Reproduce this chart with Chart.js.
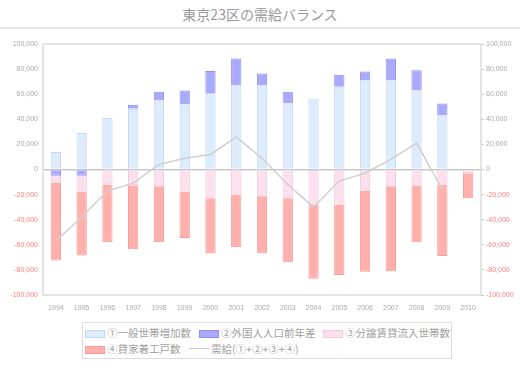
<!DOCTYPE html>
<html>
<head>
<meta charset="utf-8">
<script src="https://cdn.jsdelivr.net/npm/chart.js@4.4.1/dist/chart.umd.min.js"></script>
<style>
    body { margin: 0; width: 520px; height: 375px; background: #fff; overflow: hidden;
           font-family: "Noto Sans CJK JP", "Noto Sans", sans-serif; }
    #title { height: 27px; line-height: 29px; text-align: center; font-size: 14px; color: #999;
             border-bottom: 2px solid #e6e6e6; }
    #wrap { position: absolute; left: 0; top: 31px; width: 520px; height: 284px; }
    #legend { position: absolute; left: 82px; top: 322px; width: 368px; height: 35px;
              border: 1px solid #ddd; font-size: 10.5px; color: #a0a0a0; }
    .row { position: absolute; left: 2px; height: 16px; line-height: 16px; white-space: nowrap; }
    .item { position: absolute; top: 0; }
    .sw { display: inline-block; width: 20px; height: 8px; vertical-align: -1px; margin-right: 2px; box-sizing: border-box; }
    .ln { display: inline-block; width: 20px; height: 0; border-top: 1.5px solid #c8c8c8; vertical-align: 4px; margin-right: 2px; }
</style>
</head>
<body>
<div id="title">東京23区の需給バランス</div>
<div id="wrap"><canvas id="balanceChart"></canvas></div>
<div id="legend"></div>

<script>
// data
const years = ['1994', '1995', '1996', '1997', '1998', '1999', '2000', '2001', '2002',
    '2003', '2004', '2005', '2006', '2007', '2008', '2009', '2010'];
const householdIncrease = [14000, 29000, 41000, 48500, 55000, 52000, 61000, 67000, 67000,
    52500, 56500, 66000, 71000, 71000, 63000, 43000, null];
const foreignChange = [-5000, -5000, 0, 3000, 7000, 11000, 17500, 21500, 9500,
    9500, -1000, 9500, 7000, 17500, 16000, 9500, null];
const condoInflow = [-5500, -12500, -12000, -12500, -14000, -17500, -23000, -20000, -22000,
    -23000, -27000, -28000, -17000, -14000, -13000, -12000, -3000];
const rentalStarts = [-62000, -51000, -46000, -51000, -44000, -37000, -44000, -42000, -45000,
    -51000, -59000, -56000, -64500, -67000, -45000, -57000, -20000];
const balance = [-57000, -38000, -17000, -11000, 4000, 9000, 12000, 26000, 9000,
    -12000, -30000, -9000, -3000, 8000, 21000, -16000, null];

const labelNames = ['①一般世帯増加数', '②外国人人口前年差', '③分譲賃貸流入世帯数', '④貸家着工戸数', '需給(①+②+③+④)'];

const fills = ['rgb(221, 236, 252)', 'rgb(170, 170, 252)', 'rgb(252, 224, 237)', 'rgb(255, 176, 172)'];
const borders = ['rgb(194, 216, 242)', 'rgb(145, 145, 240)', 'rgb(242, 200, 218)', 'rgb(246, 156, 152)'];

const fmt = v => v.toLocaleString('en-US');

// frame round the plot area
const frame = {
    id: 'frame',
    afterDraw(chart) {
        const a = chart.chartArea;
        const c = chart.ctx;
        c.save();
        c.strokeStyle = '#dcdcdc';
        c.lineWidth = 1.5;
        c.strokeRect(a.left, a.top, a.right - a.left, a.bottom - a.top);
        c.restore();
    }
};

const tickColor = ctx => ctx.tick.value < 0 ? '#ff8080' : '#aaa';

new Chart(document.getElementById('balanceChart'), {
    type: 'bar',
    data: {
        labels: years,
        datasets: [
            { label: labelNames[0], data: householdIncrease, stack: 'bars', order: 1 },
            { label: labelNames[1], data: foreignChange, stack: 'bars', order: 1 },
            { label: labelNames[2], data: condoInflow, stack: 'bars', order: 1 },
            { label: labelNames[3], data: rentalStarts, stack: 'bars', order: 1 },
            {
                type: 'line', label: labelNames[4], data: balance, stack: 'line', order: 0,
                borderColor: '#cfcfcf', borderWidth: 1.5, pointRadius: 0, tension: 0, fill: false
            }
        ].map((d, i) => i < 4 ? Object.assign(d, {
            backgroundColor: fills[i],
            borderColor: borders[i],
            borderWidth: 1,
            categoryPercentage: 0.8,
            barPercentage: 0.5
        }) : d)
    },
    options: {
        responsive: true,
        maintainAspectRatio: false,
        animation: false,
        layout: { padding: { top: 13 } },
        plugins: {
            legend: { display: false },
            tooltip: { enabled: false }
        },
        scales: {
            x: {
                stacked: true,
                grid: { display: false },
                border: { display: false },
                ticks: { color: '#aaa', font: { size: 7 }, maxRotation: 0, autoSkip: false, padding: 1 },
                afterFit: s => { s.height = 20; }
            },
            y: {
                stacked: true,
                position: 'left',
                min: -100000,
                max: 100000,
                grid: {
                    color: ctx => ctx.tick.value === 0 ? '#c8c8c8' : 'transparent',
                    lineWidth: 1.5,
                    drawTicks: false
                },
                border: { display: false },
                ticks: { stepSize: 20000, color: tickColor, font: { size: 7 }, padding: 5, callback: fmt },
                afterFit: s => { s.width = 43; }
            },
            y2: {
                position: 'right',
                min: -100000,
                max: 100000,
                grid: { drawOnChartArea: false, color: '#ccc', tickLength: 3 },
                border: { display: false },
                ticks: { stepSize: 20000, color: tickColor, font: { size: 7 }, padding: 2, callback: fmt },
                afterFit: s => { s.width = 39; }
            }
        }
    },
    plugins: [frame]
});

// legend, two rows as in the reference
const legend = document.getElementById('legend');
const rows = [
    [[0, 0], [1, 114], [2, 238]],
    [[3, 0], [4, 104]]
];
rows.forEach((row, r) => {
    const div = document.createElement('div');
    div.className = 'row';
    div.style.top = (r === 0 ? 2 : 18) + 'px';
    row.forEach(([i, x]) => {
        const span = document.createElement('span');
        span.className = 'item';
        span.style.left = x + 'px';
        const sw = document.createElement('span');
        if (i < 4) {
            sw.className = 'sw';
            sw.style.background = fills[i];
            sw.style.border = '1px solid ' + borders[i];
        } else {
            sw.className = 'ln';
        }
        span.appendChild(sw);
        span.appendChild(document.createTextNode(labelNames[i]));
        div.appendChild(span);
    });
    legend.appendChild(div);
});
</script>
</body>
</html>
